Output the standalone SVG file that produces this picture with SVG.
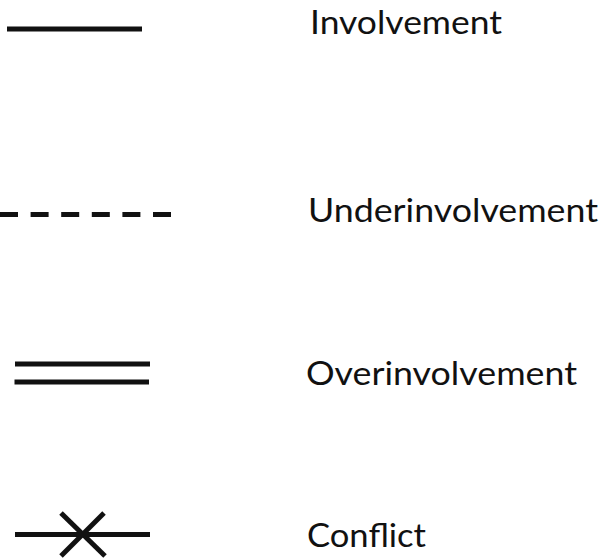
<svg xmlns="http://www.w3.org/2000/svg" width="600" height="559" viewBox="0 0 600 559">
<style>
.ln{stroke:#111;stroke-width:5;fill:none}
.lbl{font-family:Lato,"Open Sans","Liberation Sans",sans-serif;font-size:33px;fill:#111}
</style>
<rect width="600" height="559" fill="#fff"/>
<g id="connectors">
<g id="involvement-line"><line class="ln" x1="7" y1="29" x2="142" y2="29"/></g>
<g id="underinvolvement-line"><line class="ln" x1="0" y1="214.5" x2="172" y2="214.5" stroke-dasharray="18 12.6"/></g>
<g id="overinvolvement-line"><line class="ln" x1="15" y1="364" x2="150" y2="364"/><line class="ln" x1="14.5" y1="382" x2="149" y2="382"/></g>
<g id="conflict-line"><line class="ln" x1="15" y1="534.5" x2="150" y2="534.5"/><line class="ln" x1="61" y1="513" x2="105" y2="556"/><line class="ln" x1="104" y1="513" x2="61" y2="556"/></g>
</g>
<g id="legend-involvement"><text class="lbl" x="310" y="34.3" textLength="192" lengthAdjust="spacingAndGlyphs">Involvement</text></g>
<g id="legend-underinvolvement"><text class="lbl" x="308" y="221.7" textLength="290" lengthAdjust="spacingAndGlyphs">Underinvolvement</text></g>
<g id="legend-overinvolvement"><text class="lbl" x="306" y="385" textLength="271" lengthAdjust="spacingAndGlyphs">Overinvolvement</text></g>
<g id="legend-conflict"><text class="lbl" x="307" y="546.7" textLength="119" lengthAdjust="spacingAndGlyphs">Conflict</text></g>
</svg>
